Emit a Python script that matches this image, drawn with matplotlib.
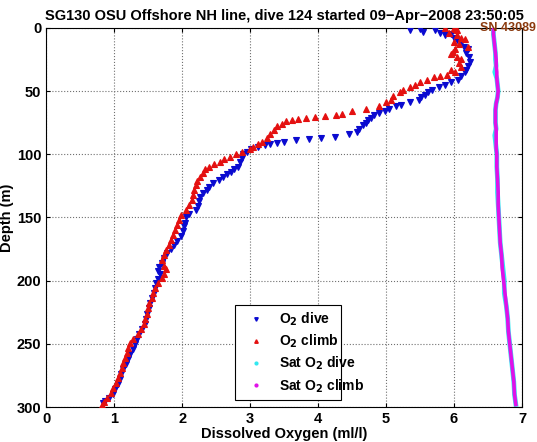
import matplotlib
matplotlib.use('Agg')
import matplotlib.pyplot as plt
from matplotlib.lines import Line2D

plt.rcParams['font.family'] = ['Liberation Sans', 'DejaVu Sans']
plt.rcParams['font.weight'] = 'bold'

# O2 dive (blue): depth (m), O2 (ml/l)
dive_depth = [1, 2, 2, 3, 4, 5, 6, 8, 10, 12, 15, 17, 20, 23, 27, 30, 33, 35, 38, 41,
              43, 45, 47, 49, 51, 53, 55, 57, 59, 61, 62, 64, 66, 67, 69, 71, 73, 75, 77, 80,
              82, 84, 86, 87, 88, 89, 90, 91, 92, 93, 94, 96, 98, 100, 103, 106, 110, 112, 114, 116,
              118, 120, 123, 126, 128, 131, 134, 137, 141, 144, 147, 150, 154, 157, 161, 165, 169, 172, 175, 178,
              182, 186, 189, 192, 195, 199, 202, 206, 210, 214, 218, 222, 226, 230, 234, 238, 242, 246, 250, 254,
              258, 262, 266, 270, 274, 278, 282, 286, 290, 293, 295, 297]
dive_o2 = [5.50, 5.35, 5.72, 5.55, 5.80, 5.95, 5.87, 6.00, 6.05, 6.10, 6.15, 6.20, 6.18, 6.22, 6.24, 6.20, 6.18, 6.16, 6.10, 6.06,
           5.95, 5.87, 5.78, 5.67, 5.62, 5.58, 5.52, 5.48, 5.35, 5.22, 5.14, 5.05, 4.99, 4.90, 4.83, 4.78, 4.74, 4.70, 4.66, 4.60,
           4.57, 4.45, 4.25, 4.05, 3.87, 3.67, 3.50, 3.40, 3.30, 3.22, 3.12, 3.02, 2.95, 2.90, 2.88, 2.85, 2.82, 2.76, 2.72, 2.66,
           2.60, 2.54, 2.46, 2.40, 2.36, 2.30, 2.27, 2.25, 2.23, 2.20, 2.10, 2.05, 2.04, 2.03, 2.01, 1.98, 1.93, 1.88, 1.83, 1.78,
           1.74, 1.71, 1.66, 1.64, 1.67, 1.64, 1.61, 1.60, 1.58, 1.56, 1.53, 1.51, 1.49, 1.47, 1.45, 1.41, 1.37, 1.34, 1.31, 1.28,
           1.24, 1.21, 1.17, 1.13, 1.10, 1.08, 1.05, 1.01, 0.99, 0.93, 0.87, 0.83]

# O2 climb (red)
climb_depth = [0, 0, 1, 2, 4, 6, 8, 9, 11, 13, 15, 17, 19, 21, 23, 25, 28, 31, 33, 35,
               37, 38, 39, 41, 43, 45, 47, 49, 51, 54, 57, 59, 62, 64, 66, 68, 69, 70, 70.5, 71,
               72, 73, 74, 76, 78, 81, 84, 87, 90, 92, 94, 96, 98, 100, 102, 104, 106, 108, 110, 112,
               115, 118, 121, 124, 128, 132, 136, 140, 144, 148, 152, 156, 160, 164, 168, 172, 176, 180, 184, 188,
               191, 195, 198, 202, 206, 210, 214, 218, 222, 226, 230, 234, 238, 242, 246, 249, 253, 257, 261, 265,
               269, 273, 277, 281, 285, 289, 293, 296, 298]
climb_o2 = [5.87, 6.00, 6.02, 6.05, 5.92, 6.05, 6.10, 6.16, 6.00, 6.08, 6.20, 6.02, 5.98, 5.96, 6.05, 6.10, 6.08, 6.10, 5.95, 6.02,
            5.90, 5.80, 5.70, 5.60, 5.50, 5.42, 5.35, 5.25, 5.20, 5.10, 5.08, 5.00, 4.89, 4.70, 4.50, 4.35, 4.26, 4.10, 3.95, 3.82,
            3.70, 3.62, 3.53, 3.47, 3.40, 3.35, 3.30, 3.25, 3.18, 3.12, 3.05, 3.00, 2.88, 2.80, 2.70, 2.62, 2.55, 2.47, 2.40, 2.33,
            2.30, 2.26, 2.22, 2.20, 2.18, 2.16, 2.14, 2.10, 2.06, 1.99, 1.95, 1.92, 1.90, 1.87, 1.84, 1.80, 1.77, 1.73, 1.71, 1.74,
            1.77, 1.73, 1.70, 1.64, 1.60, 1.57, 1.55, 1.52, 1.50, 1.48, 1.46, 1.44, 1.40, 1.35, 1.28, 1.23, 1.21, 1.19, 1.16, 1.13,
            1.11, 1.08, 1.05, 1.02, 0.99, 0.95, 0.90, 0.85, 0.82]

# saturation O2 (cyan dive, magenta climb)
sat_depth = [0, 5, 10, 15, 20, 25, 30, 35, 40, 45, 50, 55, 60, 65, 70, 75, 80, 85, 90, 95,
             100, 110, 120, 130, 140, 150, 160, 170, 180, 190, 200, 210, 220, 230, 240, 250, 260, 270, 280, 290, 298]
sat_dive = [6.58, 6.58, 6.59, 6.60, 6.61, 6.61, 6.62, 6.60, 6.63, 6.64, 6.65, 6.64, 6.62, 6.61, 6.61, 6.61, 6.62, 6.60, 6.61, 6.62,
            6.63, 6.63, 6.64, 6.64, 6.65, 6.66, 6.67, 6.68, 6.70, 6.72, 6.74, 6.74, 6.77, 6.79, 6.80, 6.82, 6.84, 6.86, 6.88, 6.89, 6.91]
sat_climb = [6.58, 6.58, 6.59, 6.60, 6.61, 6.62, 6.62, 6.63, 6.63, 6.64, 6.65, 6.64, 6.62, 6.61, 6.61, 6.61, 6.62, 6.62, 6.62, 6.62,
             6.63, 6.63, 6.64, 6.65, 6.65, 6.66, 6.67, 6.68, 6.70, 6.71, 6.73, 6.75, 6.77, 6.79, 6.80, 6.82, 6.84, 6.86, 6.88, 6.89, 6.91]

x_ticks = [0, 1, 2, 3, 4, 5, 6, 7]
y_ticks = [0, 50, 100, 150, 200, 250, 300]

BLUE = '#0a0ad0'
RED = '#e41010'
CYAN = '#30e8f0'
MAGENTA = '#e010e8'

fig = plt.figure(figsize=(5.37, 4.42), dpi=100)
ax = fig.add_axes([0.086, 0.079, 0.886, 0.858])

ax.plot(sat_dive, sat_depth, '-', color=CYAN, lw=3.4, zorder=2)
ax.plot(sat_climb, sat_depth, '-', color=MAGENTA, lw=2.6, zorder=3)
ax.plot(dive_o2, dive_depth, 'v', color=BLUE, ms=3.8, mew=0.8, ls='none', zorder=4)
ax.plot(climb_o2, climb_depth, '^', color=RED, ms=3.8, mew=0.8, ls='none', zorder=5)

ax.set_xlim(0, 7)
ax.set_ylim(300, 0)
ax.set_xticks(x_ticks)
ax.set_yticks(y_ticks)
ax.grid(True, linestyle=':', color='#707070', lw=0.8)
ax.tick_params(direction='in', top=True, right=True, length=3, labelsize=10.5)
for lab in ax.get_xticklabels() + ax.get_yticklabels():
    lab.set_fontweight('bold')

ax.set_xlabel('Dissolved Oxygen (ml/l)', fontsize=10.5, fontweight='bold', labelpad=1)
ax.set_ylabel('Depth (m)', fontsize=10.5, fontweight='bold', labelpad=2)
ax.set_title('SG130 OSU Offshore NH line, dive 124 started 09\u2212Apr\u22122008 23:50:05',
             fontsize=10.5, fontweight='bold', pad=6)
ax.text(1.03, 1.0, 'SN 43089', transform=ax.transAxes, ha='right', va='center',
        fontsize=9, color='#8b3a0e', zorder=10, clip_on=False)

handles = [
    Line2D([], [], marker='v', color=BLUE, ls='none', ms=2.5),
    Line2D([], [], marker='^', color=RED, ls='none', ms=2.5),
    Line2D([], [], marker='.', color=CYAN, ls='none', ms=4),
    Line2D([], [], marker='.', color=MAGENTA, ls='none', ms=4),
]
labels = ['O$_\\mathbf{2}$ dive', 'O$_\\mathbf{2}$ climb', 'Sat O$_\\mathbf{2}$ dive', 'Sat O$_\\mathbf{2}$ climb']
leg = ax.legend(handles, labels, loc='lower left', bbox_to_anchor=(0.382, 0.0, 0.252, 0.25),
                mode='expand', fancybox=False, edgecolor='black', framealpha=1,
                prop={'weight': 'bold', 'size': 10}, handlelength=2.2, handletextpad=0.6,
                labelspacing=0.35, borderpad=0.4)
leg.get_frame().set_linewidth(0.8)

plt.savefig('out.png', dpi=100)
plt.close()
